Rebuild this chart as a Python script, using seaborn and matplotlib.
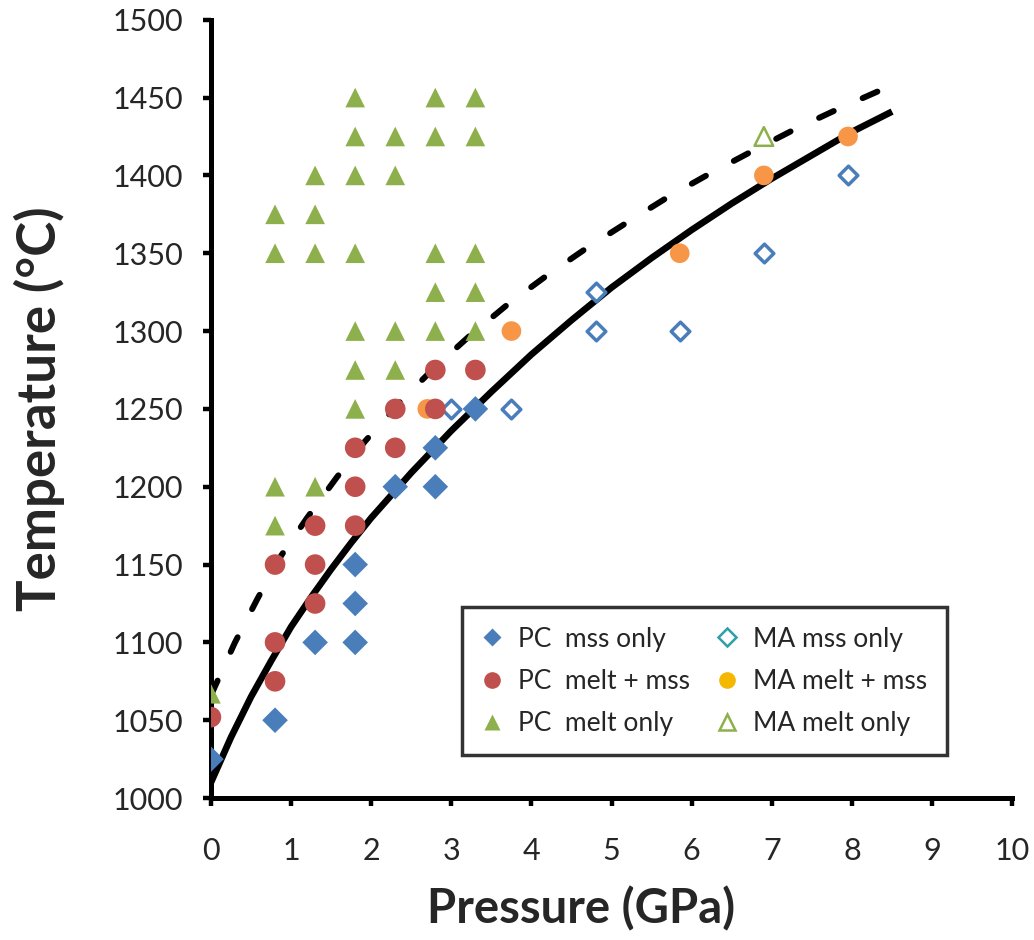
import numpy as np
import pandas as pd
import matplotlib
matplotlib.use('Agg')
import matplotlib.pyplot as plt
from matplotlib.lines import Line2D
import seaborn as sns

pc_mss_p = [0, 0.8, 1.3, 1.8, 1.8, 1.8, 2.3, 2.8, 2.8, 3.3]
pc_mss_t = [1025, 1050, 1100, 1100, 1125, 1150, 1200, 1200, 1225, 1250]

pc_mix_p = [0, 0.8, 0.8, 0.8, 1.3, 1.3, 1.3, 1.8, 1.8, 1.8, 2.3, 2.3, 2.8, 2.8, 3.3]
pc_mix_t = [1052, 1075, 1100, 1150, 1125, 1150, 1175, 1175, 1200, 1225, 1225, 1250, 1250, 1275, 1275]

pc_melt_p = [0, 0.8, 0.8, 1.3, 1.8, 1.8, 1.8, 2.3, 2.3, 2.8, 2.8, 2.8, 3.3, 3.3, 3.3,
             0.8, 1.3, 1.8, 0.8, 1.3, 1.3, 1.8, 2.3, 1.8, 2.3, 2.8, 3.3, 1.8, 2.8, 3.3]
pc_melt_t = [1067, 1175, 1200, 1200, 1250, 1275, 1300, 1275, 1300, 1300, 1325, 1350, 1300, 1325, 1350,
             1350, 1350, 1350, 1375, 1375, 1400, 1400, 1400, 1425, 1425, 1425, 1425, 1450, 1450, 1450]

ma_mss_p = [3.0, 3.75, 4.8, 4.8, 5.85, 6.9, 7.95]
ma_mss_t = [1250, 1250, 1300, 1325, 1300, 1350, 1400]

ma_mix_p = [2.7, 3.75, 5.85, 6.9, 7.95]
ma_mix_t = [1250, 1300, 1350, 1400, 1425]

ma_melt_p = [6.9]
ma_melt_t = [1425]

# solidus (solid) and liquidus (dashed) curves
sol_p = [0, 0.25, 0.5, 0.75, 1.0, 1.25, 1.5, 1.75, 2.0, 2.5, 3.0, 3.5, 4.0, 4.5, 5.0,
         5.5, 6.0, 6.5, 7.0, 7.5, 8.0, 8.5]
sol_t = [1010, 1039, 1065, 1088, 1110, 1129, 1147, 1164, 1180, 1209, 1236, 1261, 1285, 1307, 1328,
         1347, 1365, 1382, 1398, 1413, 1428, 1441]

liq_p = [0, 0.3, 0.58, 0.88, 1.2, 1.57, 1.92, 2.37, 2.8, 3.23, 3.7, 4.2, 4.68, 5.2, 5.7, 6.22, 6.77, 7.3, 7.84, 8.5]
liq_t = [1066, 1100, 1128, 1156, 1180, 1206, 1229, 1255, 1277, 1297, 1317, 1336, 1353, 1370, 1386, 1401,
         1416, 1430, 1443, 1458]

blue = '#4a7ebb'
red = '#c0504d'
green = '#8db04c'
orange = '#f79646'

sns.set_style('ticks')
plt.rcParams['font.family'] = ['Lato', 'DejaVu Sans']

fig = plt.figure(figsize=(10.34, 9.4), dpi=100)
ax = fig.add_axes([0.204, 0.151, 0.775, 0.828])

sol = pd.DataFrame({'p': sol_p, 't': sol_t})
liq = pd.DataFrame({'p': liq_p, 't': liq_t})
sns.lineplot(data=sol, x='p', y='t', color='black', linewidth=4.8, sort=False,
             estimator=None, ax=ax, zorder=2)
sns.lineplot(data=liq, x='p', y='t', color='black', linewidth=4.3, sort=False,
             estimator=None, ax=ax, zorder=2)
ax.lines[-1].set_dashes([2.7, 5.3])
ax.lines[-1].set_dash_capstyle('round')
ax.lines[0].set_solid_capstyle('butt')
ax.lines[0].set_solid_joinstyle('round')

sns.scatterplot(x=ma_mix_p, y=ma_mix_t, marker='o', s=200, color=orange, edgecolor='none', ax=ax, zorder=3)
sns.scatterplot(x=ma_mss_p, y=ma_mss_t, marker='D', s=90, facecolor='white', edgecolor=blue,
                linewidth=2.5, ax=ax, zorder=3)
sns.scatterplot(x=ma_melt_p, y=ma_melt_t, marker='^', s=180, facecolor='none', edgecolor=green,
                linewidth=1.8, ax=ax, zorder=3)
sns.scatterplot(x=pc_melt_p, y=pc_melt_t, marker='^', s=200, color=green, edgecolor='none', ax=ax, zorder=3)
sns.scatterplot(x=pc_mix_p, y=pc_mix_t, marker='o', s=220, color=red, edgecolor='none', ax=ax, zorder=3)
sns.scatterplot(x=pc_mss_p, y=pc_mss_t, marker='D', s=170, color=blue, edgecolor='none', ax=ax, zorder=3)

ax.set_xlim(0, 10)
ax.set_ylim(1000, 1500)
ax.set_xticks(range(0, 11))
ax.set_yticks(range(1000, 1501, 50))
ax.tick_params(axis='both', labelsize=22, width=3.2, length=6, color='black', direction='out')
ax.tick_params(axis='x', pad=22)
ax.tick_params(axis='y', pad=14)
for side in ['top', 'right']:
    ax.spines[side].set_visible(False)
for side in ['left', 'bottom']:
    ax.spines[side].set_linewidth(3.6)
    ax.spines[side].set_color('black')

ax.set_xlabel('Pressure (GPa)', fontsize=34, fontweight='bold')
ax.xaxis.set_label_coords(0.462, -0.113)
ax.set_ylabel('Temperature (°C)', fontsize=38, fontweight='bold')
ax.yaxis.set_label_coords(-0.182, 0.5)

handles = [
    Line2D([], [], ls='none', marker='D', ms=9, color=blue, mec='none'),
    Line2D([], [], ls='none', marker='o', ms=12, color=red, mec='none'),
    Line2D([], [], ls='none', marker='^', ms=11, color=green, mec='none'),
    Line2D([], [], ls='none', marker='D', ms=9, mfc='white', mec='#2ea0a8', mew=1.8),
    Line2D([], [], ls='none', marker='o', ms=12, color='#f5b800', mec='none'),
    Line2D([], [], ls='none', marker='^', ms=11, mfc='white', mec=green, mew=1.8),
]
labels = ['PC  mss only', 'PC  melt + mss', 'PC  melt only',
          'MA mss only', 'MA melt + mss', 'MA melt only']
leg = ax.legend(handles, labels, ncol=2, loc='lower left', bbox_to_anchor=(0.313, 0.055),
                borderaxespad=0, fontsize=19, frameon=True, fancybox=False,
                handlelength=0.8, handletextpad=0.6, columnspacing=1.0,
                labelspacing=0.65, borderpad=0.73)
leg.get_frame().set_edgecolor('black')
leg.get_frame().set_linewidth(2.5)

fig.savefig('out.png', dpi=100)
